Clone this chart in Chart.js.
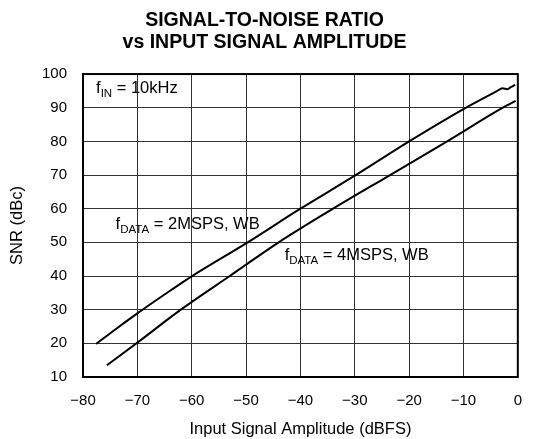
<!DOCTYPE html>
<html>
<head>
<meta charset="utf-8">
<script src="https://cdn.jsdelivr.net/npm/chart.js@4.4.1/dist/chart.umd.min.js"></script>
<style>
  html, body { margin: 0; padding: 0; background: #fff; }
  #wrap { width: 537px; height: 439px; }
</style>
</head>
<body>
<div id="wrap"><canvas id="snrChart"></canvas></div>
<script>
// Data
const amp2M = [-77.6, -74, -70, -65, -60, -49.7, -40, -30, -20, -10, -4, -2.8, -1.9, -1.3, -0.5];
const snr2M = [19.8, 24.2, 28.9, 34.5, 39.9, 50, 60, 69.8, 80, 89.6, 94.8, 95.8, 95.5, 96.1, 96.8];

const amp4M = [-75.6, -70, -62, -53, -44, -34, -23.5, -13, -3, -0.4];
const snr4M = [13.5, 20.2, 30, 40, 50, 60, 70, 80, 89.8, 92];

const xTicks = [-80, -70, -60, -50, -40, -30, -20, -10, 0];
const yTicks = [10, 20, 30, 40, 50, 60, 70, 80, 90, 100];

// Labels inside the plot: [main, subscript, rest, x, y]
const notes = [
    ["f", "IN", " = 10kHz", -77.6, 95.7],
    ["f", "DATA", " = 2MSPS, WB", -74.0, 55.2],
    ["f", "DATA", " = 4MSPS, WB", -42.9, 46.1]
];

const FONT = "'Liberation Sans', Arial, Helvetica, sans-serif";

function toPoints(xs, ys){
    return xs.map((x, i) => ({x: x, y: ys[i]}));
}

// Frame + in-plot labels
const extras = {
    id: "extras",
    afterDraw(chart){
        const ctx = chart.ctx;
        const a = chart.chartArea;
        const sx = chart.scales.x, sy = chart.scales.y;
        ctx.save();
        ctx.strokeStyle = "#000";
        ctx.lineWidth = 2;
        ctx.strokeRect(a.left, a.top, a.right - a.left, a.bottom - a.top);

        ctx.fillStyle = "#000";
        ctx.textBaseline = "middle";
        ctx.textAlign = "left";
        notes.forEach(n => {
            let px = sx.getPixelForValue(n[3]);
            const py = sy.getPixelForValue(n[4]);
            ctx.font = "16.5px " + FONT;
            ctx.fillText(n[0], px, py);
            px += ctx.measureText(n[0]).width;
            ctx.font = "11.5px " + FONT;
            ctx.fillText(n[1], px, py + 5);
            px += ctx.measureText(n[1]).width;
            ctx.font = "16.5px " + FONT;
            ctx.fillText(n[2], px, py);
        });
        ctx.restore();
    }
};

const chart = new Chart(document.getElementById("snrChart"), {
    type: "line",
    data: {
        datasets: [
            {label: "2MSPS", data: toPoints(amp2M, snr2M)},
            {label: "4MSPS", data: toPoints(amp4M, snr4M)}
        ]
    },
    options: {
        responsive: true,
        maintainAspectRatio: false,
        animation: false,
        layout: {padding: {top: 0, right: 8, left: 0, bottom: 0}},
        elements: {
            line: {borderColor: "#000", borderWidth: 2, cubicInterpolationMode: "monotone"},
            point: {radius: 0}
        },
        plugins: {
            legend: {display: false},
            tooltip: {enabled: false},
            title: {
                display: true,
                text: ["SIGNAL-TO-NOISE RATIO", "vs INPUT SIGNAL AMPLITUDE"],
                color: "#000",
                font: {family: FONT, size: 19.5, weight: "bold", lineHeight: 1.15},
                padding: {top: 9.3, bottom: 19.9}
            }
        },
        scales: {
            x: {
                type: "linear",
                min: -80, max: 0,
                afterBuildTicks: s => { s.ticks = xTicks.map(v => ({value: v})); },
                afterFit: s => { s.height = 62; },
                grid: {color: "#333", lineWidth: 1, drawTicks: false},
                border: {color: "#000", width: 2},
                ticks: {
                    color: "#000", padding: 15,
                    font: {family: FONT, size: 15},
                    callback: v => v < 0 ? "\u2212" + Math.abs(v) : String(v)
                },
                title: {
                    display: true, text: "Input Signal Amplitude (dBFS)",
                    color: "#000", font: {family: FONT, size: 16.5},
                    padding: {top: 0, bottom: 0}
                }
            },
            y: {
                min: 10, max: 100,
                afterBuildTicks: s => { s.ticks = yTicks.map(v => ({value: v})); },
                afterFit: s => { s.width = 83; },
                grid: {color: "#333", lineWidth: 1, drawTicks: false},
                border: {color: "#000", width: 2},
                ticks: {
                    color: "#000", padding: 16,
                    font: {family: FONT, size: 15}
                },
                title: {
                    display: true, text: "SNR (dBc)",
                    color: "#000", font: {family: FONT, size: 16.5},
                    padding: {top: 8, bottom: 0}
                }
            }
        }
    },
    plugins: [extras]
});
</script>
</body>
</html>
